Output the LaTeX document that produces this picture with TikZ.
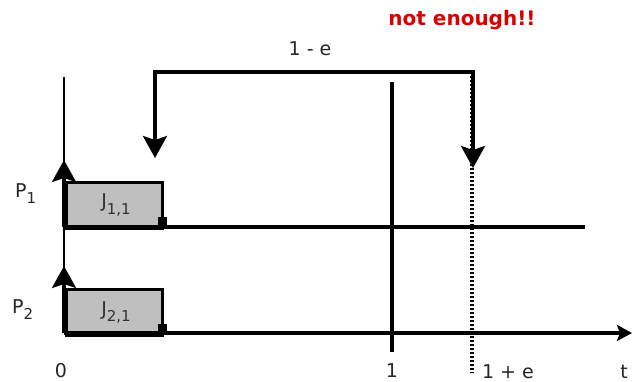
\documentclass[tikz,border=0pt]{standalone}
\usepackage{fontspec}
\setmainfont{DejaVu Sans}
\usetikzlibrary{arrows.meta}
\newcommand{\lowsub}[1]{\raisebox{-6pt}{\fontsize{15}{15}\selectfont #1}}
\begin{document}
\begin{tikzpicture}[x=1pt,y=-1pt,
  ln/.style={line width=3.2pt,black},
  arr/.style={ln,-{Stealth[length=22pt,width=24pt,inset=4pt]}},
  job/.style={draw=black,line width=3pt,fill=black!25,minimum width=96pt,minimum height=46pt,inner sep=0pt,anchor=north west},
  lbl/.style={font=\fontsize{19}{21}\selectfont,text=black!85,inner sep=0pt,anchor=base},
  sqmark/.style={fill=black,minimum size=9pt,inner sep=0pt}]
\useasboundingbox (0,0) rectangle (632,382);
% nodes
\node[job] (j1) at (65,181) {};
\node[job] (j2) at (65,288) {};
\node[lbl,text=black!80] (t1) at (116,208) {J\lowsub{1,1}};
\node[lbl,text=black!80] (t2) at (116,315) {J\lowsub{2,1}};
\node[sqmark] (m1) at (162,222) {};
\node[sqmark] (m2) at (162,328) {};
% coordinates
\coordinate (o) at (64,333);
\coordinate (ytop) at (64,77);
\coordinate (p1s) at (64,227);
\coordinate (p1e) at (585,227);
\coordinate (tend) at (632,333);
\coordinate (onetop) at (392,82);
\coordinate (onebot) at (392,352);
\coordinate (dtop) at (472,76);
\coordinate (dbot) at (472,373);
\coordinate (bl) at (155,72);
\coordinate (br) at (473,72);
\coordinate (blt) at (155,158);
\coordinate (brt) at (473,168);
\coordinate (a1) at (64,160);
\coordinate (a2) at (64,266);
% axes
\draw[ln,line width=2.8pt] (o) -- (ytop);
\draw[arr] (p1s) -- (a1);
\draw[arr] (o) -- (a2);
\draw[ln] (p1s) -- (p1e);
\draw[ln,-{Stealth[length=15pt,width=16pt,inset=3pt]}] (o) -- (tend);
\draw[ln] (onetop) -- (onebot);
\draw[line width=3.2pt,dash pattern=on 2pt off 2pt] (dtop) -- (dbot);
\draw[arr] (br) -- (bl) -- (blt);
\draw[arr] (bl) -- (br) -- (brt);
% labels
\node[lbl] (le) at (310,56) {1 - e};
\node[lbl,font=\bfseries\fontsize{20}{22}\selectfont,text=red!85!black] (ne) at (462,26) {not enough!!};
\node[lbl,anchor=base west] (P1) at (15,198) {P\lowsub{1}};
\node[lbl,anchor=base west] (P2) at (12,313) {P\lowsub{2}};
\node[lbl] (l0) at (61,377) {0};
\node[lbl] (l1) at (392,377) {1};
\node[lbl] (l1e) at (508,378) {1 + e};
\node[lbl] (lt) at (624,378) {t};
\end{tikzpicture}
\end{document}
